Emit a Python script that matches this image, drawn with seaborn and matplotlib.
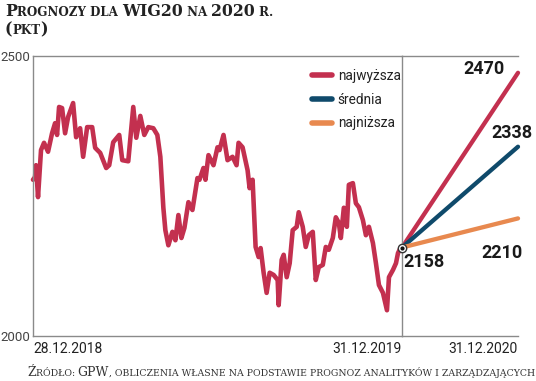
import numpy as np
import pandas as pd
import seaborn as sns
import matplotlib
matplotlib.use("Agg")
from matplotlib import pyplot as plt

# WIG20 in 2019 - days after 28.12.2018 and index level
hist_day = [0, 2, 3, 5, 8, 11, 15, 19, 22, 24,
            26, 29, 32, 35, 40, 43, 47, 50, 54, 59,
            62, 67, 73, 76, 80, 86, 89, 95, 100, 103,
            107, 111, 115, 120, 124, 127, 130, 132, 135, 139,
            142, 145, 148, 151, 155, 159, 164, 166, 170, 172,
            175, 180, 184, 186, 190, 194, 199, 203, 205, 209,
            214, 216, 219, 222, 225, 227, 230, 233, 236, 240,
            244, 245, 248, 250, 253, 256, 259, 263, 265, 269,
            272, 275, 279, 282, 285, 289, 292, 295, 299, 302,
            305, 307, 310, 313, 315, 319, 322, 325, 329, 332,
            335, 339, 342, 345, 349, 353, 355, 359, 362, 364,
            367, 368]
hist_val = [2279, 2284, 2305, 2248, 2332, 2345, 2329, 2362, 2380, 2359,
            2409, 2407, 2362, 2391, 2416, 2355, 2371, 2320, 2373, 2373,
            2336, 2327, 2300, 2305, 2346, 2359, 2314, 2312, 2409, 2354,
            2393, 2359, 2373, 2371, 2359, 2320, 2229, 2189, 2162, 2186,
            2171, 2216, 2175, 2193, 2239, 2225, 2282, 2279, 2300, 2279,
            2323, 2305, 2337, 2332, 2359, 2314, 2320, 2305, 2345, 2337,
            2296, 2264, 2279, 2159, 2141, 2157, 2113, 2077, 2113, 2109,
            2100, 2055, 2136, 2145, 2105, 2130, 2189, 2195, 2221, 2195,
            2159, 2180, 2186, 2100, 2123, 2127, 2159, 2154, 2175, 2212,
            2202, 2175, 2229, 2195, 2270, 2273, 2237, 2230, 2207, 2180,
            2195, 2166, 2130, 2091, 2077, 2046, 2105, 2118, 2130, 2148,
            2159, 2158]

# forecasts for end of 2020
fc_names = ["najwyższa", "średnia", "najniższa"]
fc_start = 2158
fc_end = [2470, 2338, 2210]
fc_colors = ["#c3304f", "#0f4a6b", "#e8894f"]

start_date = pd.Timestamp("2018-12-28")
mid_date = pd.Timestamp("2019-12-31")
end_date = pd.Timestamp("2020-12-31")
tick_labels = ["28.12.2018", "31.12.2019", "31.12.2020"]

hist = pd.DataFrame({"date": start_date + pd.to_timedelta(hist_day, unit="D"),
                     "value": hist_val})
rows = []
for name, v in zip(fc_names, fc_end):
    rows.append({"date": mid_date, "value": fc_start, "scenario": name})
    rows.append({"date": end_date, "value": v, "scenario": name})
fc = pd.DataFrame(rows)

sns.set_theme(style="white")
sans = ["Roboto", "DejaVu Sans"]
serif = ["DejaVu Serif"]
plt.rcParams["font.family"] = sans

fig = plt.figure(figsize=(5.36, 3.81), dpi=100)
W, H = 536, 381
ax1 = fig.add_axes([33 / W, 45 / H, 369 / W, 280 / H])
ax2 = fig.add_axes([402 / W, 45 / H, 116 / W, 280 / H])

sns.lineplot(data=hist, x="date", y="value", ax=ax1, color=fc_colors[0], lw=3.3,
             solid_capstyle="round", clip_on=False)
sns.lineplot(data=fc, x="date", y="value", hue="scenario", hue_order=fc_names,
             palette=fc_colors, ax=ax2, lw=3.1, solid_capstyle="round",
             legend=False, clip_on=False)

spine_col = "#8a8a8a"
for ax in (ax1, ax2):
    ax.set_ylim(2000, 2500)
    ax.set_xlabel("")
    ax.set_ylabel("")
    ax.spines["right"].set_visible(False)
    for s in ("left", "top", "bottom"):
        ax.spines[s].set_color(spine_col)
        ax.spines[s].set_linewidth(1.0)
    ax.tick_params(length=0)

ax1.set_xlim(start_date, mid_date)
ax2.set_xlim(mid_date, end_date)

ax1.set_yticks([2000, 2500])
ax1.set_yticklabels(["2000", "2500"], fontsize=9.5, color="#444444")
ax1.tick_params(axis="y", pad=2)
ax2.set_yticks([])

ax1.set_xticks([start_date, mid_date])
ax1.set_xticklabels(tick_labels[:2], fontsize=10, color="#222222")
ax1.get_xticklabels()[0].set_ha("left")
ax1.get_xticklabels()[1].set_ha("right")
ax2.set_xticks([end_date])
ax2.set_xticklabels(tick_labels[2:], fontsize=10, color="#222222", ha="right")
ax1.tick_params(axis="x", pad=4)
ax2.tick_params(axis="x", pad=4)

# start point of forecasts
ax2.plot([mid_date], [fc_start], marker="o", ms=6, mfc="white", mec="#333333",
         mew=1, clip_on=False, zorder=5)
ax2.plot([mid_date], [fc_start], marker="o", ms=2, color="#111111",
         clip_on=False, zorder=6)

# value labels
lab_kw = dict(textcoords="offset points", fontsize=13, fontweight="bold",
              color="#1a1a1a", va="center", annotation_clip=False)
ax2.annotate(str(fc_end[0]), xy=(end_date, fc_end[0]), xytext=(-9.4, 3), ha="right", **lab_kw)
ax2.annotate(str(fc_end[1]), xy=(end_date, fc_end[1]), xytext=(10.8, 10), ha="right", **lab_kw)
ax2.annotate(str(fc_end[2]), xy=(end_date, fc_end[2]), xytext=(3.6, -24.8), ha="right", **lab_kw)
ax2.annotate(str(fc_start), xy=(mid_date, fc_start), xytext=(0.7, -10.4), ha="left", **lab_kw)

leg = ax1.legend(ax2.lines[:3], fc_names, loc="upper left",
                 bbox_to_anchor=(305 / W, 1 - 62 / H), bbox_transform=fig.transFigure,
                 frameon=False, fontsize=9.8, handlelength=1.5, handletextpad=0.4,
                 labelspacing=0.72, borderpad=0, labelcolor="#222222")
for h in leg.get_lines():
    h.set_linewidth(4)


def small_caps(x, y, parts, big, small, **kw):
    r = fig.canvas.get_renderer()
    for s, is_big in parts:
        t = fig.text(x / W, 1 - y / H, s, fontsize=big if is_big else small,
                     va="baseline", ha="left", **kw)
        x += t.get_window_extent(renderer=r).width


title_kw = dict(family=serif, fontweight="bold", color="#222222")
small_caps(5, 16, [("P", True), ("ROGNOZY DLA ", False), ("WIG20", True),
                   (" NA ", False), ("2020", True), (" R.", False)],
           11.4, 8.6, **title_kw)
small_caps(5, 34, [("(", True), ("PKT", False), (")", True)], 11.4, 8.6, **title_kw)

src_kw = dict(family=serif, color="#333333")
small_caps(27, 376, [("Ź", True), ("RÓDŁO: ", False), ("GPW", True),
                     (", OBLICZENIA WŁASNE NA PODSTAWIE PROGNOZ ANALITYKÓW I ZARZĄDZAJĄCYCH", False)],
           9.0, 6.75, **src_kw)

fig.savefig("out.png", dpi=100)
